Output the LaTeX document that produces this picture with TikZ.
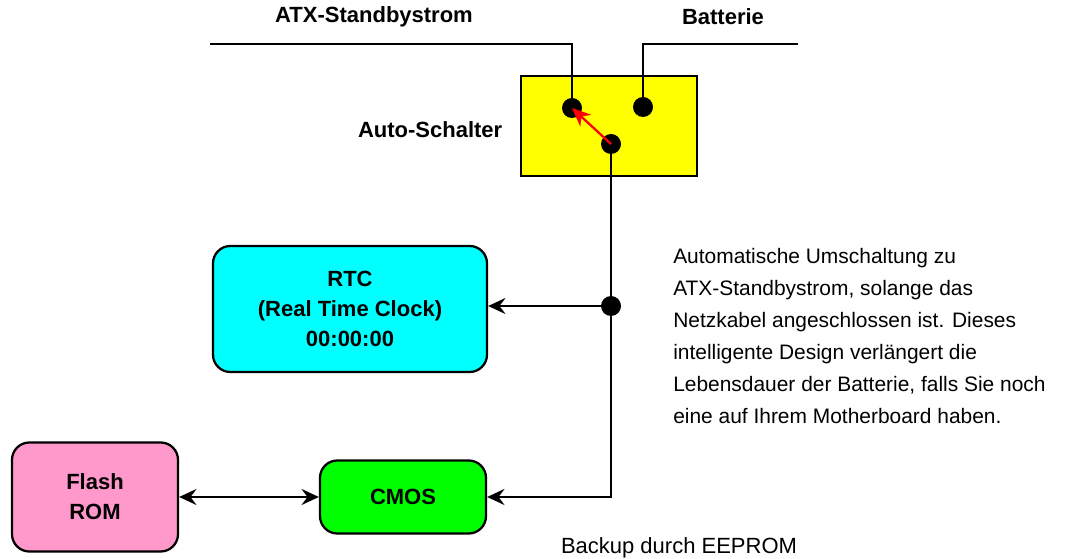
\documentclass[tikz,border=0pt]{standalone}
\usepackage{fontspec}
\setmainfont{Liberation Sans}
\usetikzlibrary{arrows.meta,positioning}
\definecolor{switchyellow}{RGB}{255,255,0}
\definecolor{rtccyan}{RGB}{0,255,255}
\definecolor{cmosgreen}{RGB}{0,255,0}
\definecolor{flashpink}{RGB}{255,153,204}

\begin{document}
\begin{tikzpicture}[
    x=0.75pt, y=-0.75pt,
    box/.style={rectangle, draw, line width=1.7pt, rounded corners=13pt, font=\bfseries\fontsize{16.5}{22.5}\selectfont, align=center},
    dot/.style={circle, fill=black, inner sep=0pt, minimum size=15pt},
    wire/.style={line width=1.7pt},
    arr/.style={wire, -{Stealth[length=13pt,width=12pt,inset=4.5pt]}},
    lbl/.style={font=\bfseries\fontsize{16.5}{20}\selectfont}
]
    \useasboundingbox (0,0) rectangle (1086,559);

    % switch
    \node[rectangle, draw, line width=1.7pt, fill=switchyellow, minimum width=132pt, minimum height=75pt] (switch) at (609,126) {};
    \node[dot] (atx) at (572,108) {};
    \node[dot] (bat) at (643,107) {};
    \node[dot] (common) at (611,144) {};
    \node[dot] (junc) at (611,306) {};

    % boxes
    \node[box, fill=rtccyan, minimum width=205.5pt, minimum height=94.5pt] (rtc) at (350,309) {RTC\\(Real Time Clock)\\00:00:00};
    \node[box, fill=cmosgreen, minimum width=124.5pt, minimum height=54.75pt] (cmos) at (403,497) {CMOS};
    \node[box, fill=flashpink, minimum width=124.5pt, minimum height=81.75pt] (flash) at (95,497) {Flash\\ROM};

    % labels
    \node[lbl] (atxlbl) at (374,17) {ATX-Standbystrom};
    \node[lbl] (batlbl) at (723,17) {Batterie};
    \node[lbl, anchor=east] (swlbl) at (507,130) {Auto-Schalter};
    \node[anchor=north west, align=left, inner sep=0pt, font=\fontsize{15.7}{24}\selectfont] (desc) at (673,248) {Automatische Umschaltung zu\\ATX-Standbystrom, solange das\\Netzkabel angeschlossen ist. Dieses\\intelligente Design verlängert die\\Lebensdauer der Batterie, falls Sie noch\\eine auf Ihrem Motherboard haben.};
    \node[font=\fontsize{16.5}{20}\selectfont] (backup) at (679,548) {Backup durch EEPROM};

    \coordinate (atxin) at (210,44);
    \coordinate (batin) at (798,44);

    % wires
    \draw[wire] (atxin) -| (atx.center);
    \draw[wire] (batin) -| (bat.center);
    \draw[wire] (common.center) -- (junc.center);
    \draw[arr] (junc.center) -- (junc.center -| rtc.east);
    \draw[arr] (junc.center) |- (cmos.east);
    \draw[wire, {Stealth[length=13pt,width=12pt,inset=4.5pt]}-{Stealth[length=13pt,width=12pt,inset=4.5pt]}] (flash) -- (cmos);
    \draw[wire, red, -{Stealth[length=14pt,width=12pt,inset=4.5pt]}] (common.center) -- (atx.center);
\end{tikzpicture}
\end{document}
